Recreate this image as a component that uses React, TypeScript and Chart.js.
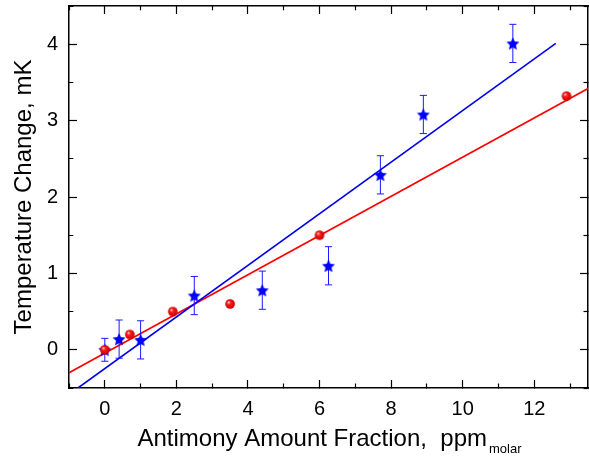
import React, { useEffect, useRef } from 'react';
import { Chart, registerables } from 'chart.js';

Chart.register(...registerables);

const FONT = "'Liberation Sans', Arial, Helvetica, sans-serif";

// ---- data ----
const starX = [0, 0.4, 1.0, 2.5, 4.4, 6.25, 7.7, 8.9, 11.4];
const starY = [0, 0.14, 0.13, 0.71, 0.78, 1.1, 2.29, 3.08, 4.01];
const starErr = [0.15, 0.25, 0.25, 0.25, 0.25, 0.25, 0.25, 0.25, 0.25];

const sphereX = [0, 0.7, 1.9, 3.5, 6.0, 12.9];
const sphereY = [0, 0.2, 0.5, 0.6, 1.5, 3.32];

const redFitX = [-1, 13.5];
const redFitY = [-0.3, 3.42];
const blueFitX = [-0.75, 12.6];
const blueFitY = [-0.5, 4.01];

const X_MIN = -1;
const X_MAX = 13.5;
const Y_MIN = -0.5;
const Y_MAX = 4.5;
const X_STEP = 1; // minor step, labels every 2
const Y_STEP = 0.5; // minor step, labels every 1

const xTitle = 'Antimony Amount Fraction,  ppm';
const xTitleSub = 'molar';
const yTitle = 'Temperature Change, mK';

// ---- styles ----
const CAP = 0.1; // half cap width in x units
const MAJOR = 8;
const MINOR = 5;
const BORDER_W = 1.5;
const L = MAJOR + BORDER_W / 2;

const isMinorX = (v: number) => Math.abs(v % 2) > 1e-6;
const isMinorY = (v: number) => Math.abs(v - Math.round(v)) > 1e-6;

function makeSphere(r: number) {
  const c = document.createElement('canvas');
  const s = Math.ceil(r * 2 + 2);
  c.width = s;
  c.height = s;
  const g = c.getContext('2d')!;
  const cx = s / 2;
  const cy = s / 2;
  const grad = g.createRadialGradient(cx - r * 0.35, cy - r * 0.4, r * 0.05, cx, cy, r);
  grad.addColorStop(0, '#ffd6d6');
  grad.addColorStop(0.35, '#ff1c1c');
  grad.addColorStop(1, '#c00000');
  g.fillStyle = grad;
  g.beginPath();
  g.arc(cx, cy, r, 0, Math.PI * 2);
  g.fill();
  return c;
}

function makeStar(R: number, ratio: number, color: string) {
  const c = document.createElement('canvas');
  const s = Math.ceil(R * 2 + 2);
  c.width = s;
  c.height = s;
  const g = c.getContext('2d')!;
  const cx = s / 2;
  const cy = s / 2 + R * 0.1;
  g.fillStyle = color;
  g.beginPath();
  for (let i = 0; i < 10; i++) {
    const rad = i % 2 === 0 ? R : R * ratio;
    const a = -Math.PI / 2 + (i * Math.PI) / 5;
    const px = cx + rad * Math.cos(a);
    const py = cy + rad * Math.sin(a);
    if (i === 0) g.moveTo(px, py);
    else g.lineTo(px, py);
  }
  g.closePath();
  g.fill();
  return c;
}

const xTitlePlugin = {
  id: 'xTitleSub',
  afterDraw(chart: any) {
    const { ctx, chartArea } = chart;
    ctx.save();
    ctx.fillStyle = '#000';
    ctx.textBaseline = 'alphabetic';
    ctx.textAlign = 'left';
    ctx.font = `24px ${FONT}`;
    const w1 = ctx.measureText(xTitle).width;
    ctx.font = `13px ${FONT}`;
    const w2 = ctx.measureText(xTitleSub).width;
    const gap = 2;
    const start = (chartArea.left + chartArea.right) / 2 - (w1 + gap + w2) / 2 + 1;
    const base = chartArea.bottom + 58;
    ctx.font = `24px ${FONT}`;
    ctx.fillText(xTitle, start, base);
    ctx.font = `13px ${FONT}`;
    ctx.fillText(xTitleSub, start + w1 + gap, base + 7);
    ctx.restore();
  },
};

const fitSize = (dim: 'width' | 'height', v: number) => (s: any) => {
  s[dim] = v;
  s.paddingTop = 0;
  s.paddingBottom = 0;
  s.paddingLeft = 0;
  s.paddingRight = 0;
};

export default function App() {
  const ref = useRef<HTMLCanvasElement>(null);

  useEffect(() => {
    const sphere = makeSphere(4.8);
    const star = makeStar(6.8, 0.47, '#0000ff');

    const errData: any[] = [];
    starX.forEach((x, i) => {
      const lo = starY[i] - starErr[i];
      const hi = starY[i] + starErr[i];
      errData.push({ x, y: lo }, { x, y: hi }, { x, y: null });
      errData.push({ x: x - CAP, y: hi }, { x: x + CAP, y: hi }, { x, y: null });
      errData.push({ x: x - CAP, y: lo }, { x: x + CAP, y: lo }, { x, y: null });
    });

    const tickFont = { family: FONT, size: 20 };
    const base = (min: number, max: number, step: number) => ({
      type: 'linear',
      min,
      max,
      border: { display: true, color: '#000', width: BORDER_W },
      ticks: {
        stepSize: step,
        includeBounds: false,
        autoSkip: false,
        maxRotation: 0,
        minRotation: 0,
        color: '#000',
        font: tickFont,
      },
    });
    const grid = (dash: (c: any) => number[]) => ({
      drawOnChartArea: false,
      drawTicks: true,
      tickLength: -MAJOR,
      tickColor: '#000',
      tickWidth: 1.2,
      tickBorderDash: dash,
    });

    const chart = new Chart(ref.current!, {
      type: 'scatter',
      data: {
        datasets: [
          {
            label: 'spheres',
            data: sphereX.map((x, i) => ({ x, y: sphereY[i] })),
            pointStyle: sphere as any,
            pointRadius: 5,
            showLine: false,
            order: 0,
          },
          {
            label: 'stars',
            data: starX.map((x, i) => ({ x, y: starY[i] })),
            pointStyle: star as any,
            pointRadius: 6,
            showLine: false,
            order: 1,
          },
          {
            label: 'errors',
            data: errData,
            showLine: true,
            spanGaps: false,
            borderColor: '#1a1aff',
            borderWidth: 1,
            pointRadius: 0,
            order: 2,
          },
          {
            label: 'blue fit',
            data: blueFitX.map((x, i) => ({ x, y: blueFitY[i] })),
            showLine: true,
            borderColor: '#0000ee',
            borderWidth: 1.6,
            pointRadius: 0,
            order: 3,
          },
          {
            label: 'red fit',
            data: redFitX.map((x, i) => ({ x, y: redFitY[i] })),
            showLine: true,
            borderColor: '#ff0000',
            borderWidth: 1.6,
            pointRadius: 0,
            order: 4,
          },
        ],
      },
      options: {
        animation: false,
        responsive: false,
        events: [],
        layout: { autoPadding: false, padding: { top: 6, right: 1, left: 0, bottom: 0 } },
        plugins: { legend: { display: false }, tooltip: { enabled: false } },
        scales: {
          x: {
            ...base(X_MIN, X_MAX, X_STEP),
            position: 'bottom',
            ticks: {
              ...base(X_MIN, X_MAX, X_STEP).ticks,
              padding: 17,
              callback: (v: any) => (isMinorX(Number(v)) ? '' : String(v)),
            },
            grid: grid((c: any) => (isMinorX(c.tick.value) ? [MINOR, 100] : [])),
            afterFit: fitSize('height', 69),
          },
          x2: {
            ...base(X_MIN, X_MAX, X_STEP),
            position: 'top',
            ticks: { ...base(X_MIN, X_MAX, X_STEP).ticks, display: false },
            grid: grid((c: any) => (isMinorX(c.tick.value) ? [0, L - MINOR, MINOR, 100] : [])),
            afterFit: fitSize('height', 0),
          },
          y: {
            ...base(Y_MIN, Y_MAX, Y_STEP),
            position: 'left',
            ticks: {
              ...base(Y_MIN, Y_MAX, Y_STEP).ticks,
              padding: 19,
              callback: (v: any) => (isMinorY(Number(v)) ? '' : String(v)),
            },
            grid: grid((c: any) => (isMinorY(c.tick.value) ? [0, L - MINOR, MINOR, 100] : [])),
            title: {
              display: true,
              text: yTitle,
              color: '#000',
              font: { family: FONT, size: 24 },
              padding: { top: 10, bottom: 0 },
            },
            afterFit: fitSize('width', 69),
          },
          y2: {
            ...base(Y_MIN, Y_MAX, Y_STEP),
            position: 'right',
            ticks: { ...base(Y_MIN, Y_MAX, Y_STEP).ticks, display: false },
            grid: grid((c: any) => (isMinorY(c.tick.value) ? [MINOR, 100] : [])),
            afterFit: fitSize('width', 0),
          },
        },
      } as any,
      plugins: [xTitlePlugin],
    } as any);

    return () => chart.destroy();
  }, []);

  return (
    <div style={{ position: 'absolute', left: 0, top: 0, width: 589, height: 457, background: '#fff' }}>
      <canvas ref={ref} width={589} height={457} style={{ display: 'block' }} />
    </div>
  );
}
